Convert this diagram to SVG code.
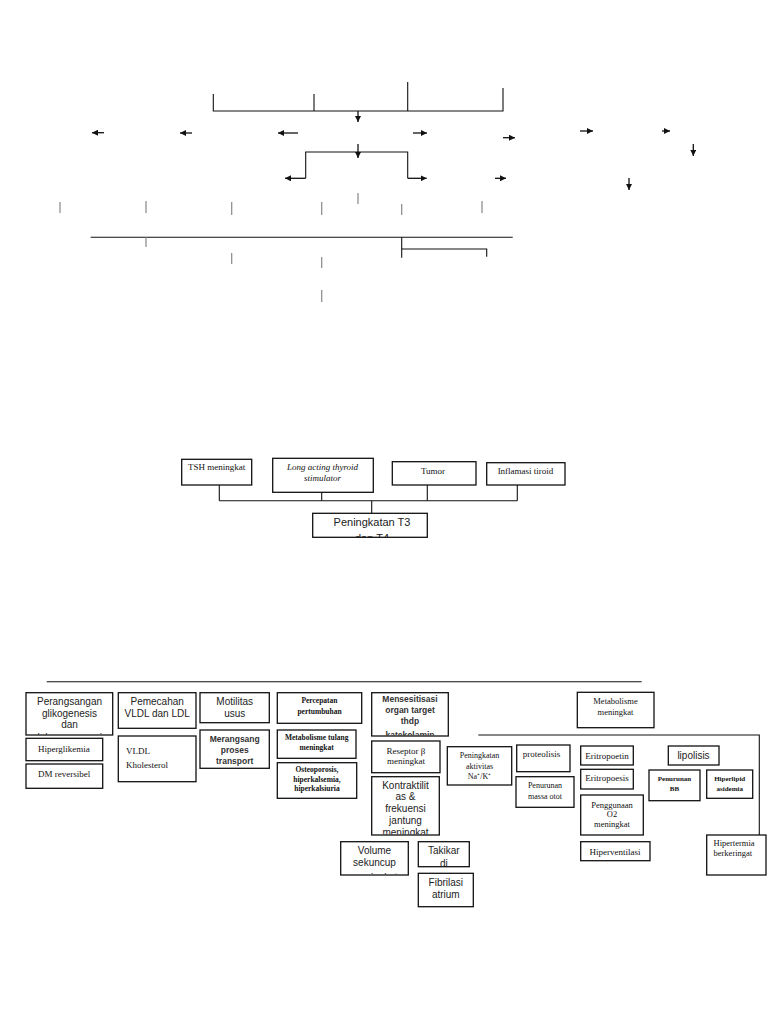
<svg xmlns="http://www.w3.org/2000/svg" width="768" height="1024" viewBox="0 0 768 1024">
<style>
.bg{fill:#fff}
.box{fill:#fff;stroke:#111;stroke-width:1.3}
.ln{stroke:#111;stroke-width:1.1;fill:none}
.ar{stroke:#111;stroke-width:1.3;fill:none;marker-end:url(#ah)}
.tk{stroke:#888;stroke-width:1.2}
.s{font-family:"Liberation Sans",Arial,sans-serif;font-size:10px;fill:#222;text-anchor:middle}
.ss{font-family:"Liberation Sans",Arial,sans-serif;font-size:8.5px;font-weight:bold;fill:#333;text-anchor:middle}
.r{font-family:"Liberation Serif","Times New Roman",serif;font-size:9px;fill:#111;text-anchor:middle}
.rl{font-family:"Liberation Serif","Times New Roman",serif;font-size:9px;fill:#111}
.rb{font-family:"Liberation Serif","Times New Roman",serif;font-size:7.5px;font-weight:bold;fill:#111;text-anchor:middle}
.ri{font-family:"Liberation Serif","Times New Roman",serif;font-size:9px;font-style:italic;fill:#111;text-anchor:middle}
</style>
<defs>
<marker id="ah" markerUnits="userSpaceOnUse" markerWidth="6" markerHeight="6" refX="6" refY="3" orient="auto">
<path d="M0,0 L6,3 L0,6 z" fill="#111"/>
</marker>
<clipPath id="cPer"><rect x="26" y="692.7" width="86.7" height="42"/></clipPath>
<clipPath id="cT3"><rect x="312.7" y="513.3" width="114.6" height="23.6"/></clipPath>
<clipPath id="cMen"><rect x="371.7" y="692.7" width="76.6" height="42.8"/></clipPath>
<clipPath id="cKon"><rect x="371.7" y="776.7" width="67.6" height="57.8"/></clipPath>
<clipPath id="cVol"><rect x="340.7" y="841.7" width="67.6" height="32.8"/></clipPath>
<clipPath id="cTak"><rect x="418.3" y="841.7" width="51" height="24.5"/></clipPath>
</defs>
<rect class="bg" x="0" y="0" width="768" height="1024"/>

<g id="connectors">
<!-- top section -->
<polyline class="ln" points="213.3,94 213.3,111 503,111 503,88"/>
<line class="ln" x1="314" y1="94" x2="314" y2="111"/>
<line class="ln" x1="407.7" y1="82" x2="407.7" y2="111"/>
<line class="ar" x1="358" y1="111" x2="358" y2="122"/>
<line class="ar" x1="104" y1="132.7" x2="92" y2="132.7"/>
<line class="ar" x1="192" y1="133" x2="180" y2="133"/>
<line class="ar" x1="298" y1="133" x2="278" y2="133"/>
<line class="ar" x1="413" y1="133" x2="427" y2="133"/>
<line class="ar" x1="503" y1="137.7" x2="515" y2="137.7"/>
<line class="ar" x1="580" y1="131" x2="593" y2="131"/>
<line class="ar" x1="662" y1="131" x2="670" y2="131"/>
<line class="ar" x1="693.3" y1="144" x2="693.3" y2="156"/>
<line class="ar" x1="358" y1="144" x2="358" y2="158"/>
<polyline class="ln" points="305.7,178.3 305.7,152 407.7,152 407.7,178.3"/>
<line class="ar" x1="305.7" y1="178.3" x2="285" y2="178.3"/>
<line class="ar" x1="407.7" y1="178.3" x2="426.7" y2="178.3"/>
<line class="ar" x1="495" y1="178.3" x2="506" y2="178.3"/>
<line class="ar" x1="629" y1="178" x2="629" y2="190"/>
<line class="tk" x1="358" y1="193" x2="358" y2="204"/>
<line class="tk" x1="60" y1="202" x2="60" y2="213"/>
<line class="tk" x1="146" y1="201" x2="146" y2="213"/>
<line class="tk" x1="231.7" y1="202" x2="231.7" y2="215"/>
<line class="tk" x1="321.7" y1="202" x2="321.7" y2="215"/>
<line class="tk" x1="401.7" y1="204" x2="401.7" y2="215"/>
<line class="tk" x1="482" y1="201" x2="482" y2="213"/>
<line class="ln" x1="90.7" y1="237.3" x2="512.7" y2="237.3"/>
<line class="tk" x1="146" y1="237.3" x2="146" y2="247"/>
<line class="tk" x1="231.7" y1="253" x2="231.7" y2="264"/>
<line class="tk" x1="321.7" y1="257" x2="321.7" y2="268"/>
<line class="tk" x1="321.7" y1="290" x2="321.7" y2="302"/>
<line class="ln" x1="401.7" y1="237.3" x2="401.7" y2="257.7"/>
<polyline class="ln" points="401.7,249 486.7,249 486.7,256.7"/>
<!-- middle section -->
<line class="ln" x1="219.3" y1="485" x2="219.3" y2="500.7"/>
<line class="ln" x1="321.7" y1="492.3" x2="321.7" y2="500.7"/>
<line class="ln" x1="427.3" y1="485" x2="427.3" y2="500.7"/>
<line class="ln" x1="517.3" y1="485" x2="517.3" y2="500.7"/>
<line class="ln" x1="219.3" y1="500.7" x2="517.3" y2="500.7"/>
<line class="ln" x1="371.7" y1="500.7" x2="371.7" y2="513.3"/>
<!-- bottom section -->
<line class="ln" x1="46.7" y1="681.7" x2="641.7" y2="681.7"/>
<polyline class="ln" points="478.3,735 759.3,735 759.3,835"/>
</g>

<g id="n-tsh"><rect class="box" x="181.7" y="459.3" width="70" height="25.7"/><text class="rl" x="188" y="470">TSH meningkat</text></g>
<g id="n-lats"><rect class="box" x="272.7" y="458.3" width="100.6" height="34"/><text class="ri" x="322.5" y="470">Long acting thyroid</text><text class="ri" x="322.5" y="481">stimulator</text></g>
<g id="n-tumor"><rect class="box" x="392.3" y="461.7" width="83.7" height="23.3"/><text class="r" x="433" y="474">Tumor</text></g>
<g id="n-inflamasi"><rect class="box" x="486.7" y="462.7" width="78.3" height="22.3"/><text class="r" x="525.5" y="474">Inflamasi tiroid</text></g>
<g id="n-t3"><rect class="box" x="312.7" y="513.3" width="114.6" height="24"/><g clip-path="url(#cT3)"><text class="s" x="372" y="526" style="font-size:11px">Peningkatan T3</text><text class="s" x="372" y="542.3" style="font-size:11px">dan T4</text></g></g>

<g id="n-perangsangan"><rect class="box" x="26" y="692.7" width="86.7" height="42.3"/><g clip-path="url(#cPer)"><text class="s" x="69.5" y="704.5">Perangsangan</text><text class="s" x="69.5" y="716.5">glikogenesis</text><text class="s" x="69.5" y="728">dan</text><text class="s" x="69.5" y="740.8">glukoneogenesis</text></g></g>
<g id="n-hiperglikemia"><rect class="box" x="26" y="738.3" width="76.7" height="22.4"/><text class="rl" x="38" y="751.5">Hiperglikemia</text></g>
<g id="n-dm"><rect class="box" x="26" y="764" width="76.7" height="24.3"/><text class="rl" x="38" y="776.5">DM reversibel</text></g>
<g id="n-pemecahan"><rect class="box" x="118.3" y="692.7" width="77.7" height="35.6"/><text class="s" x="157.2" y="705">Pemecahan</text><text class="s" x="157.2" y="717">VLDL dan LDL</text></g>
<g id="n-vldl"><rect class="box" x="118.3" y="736" width="77.7" height="45.7"/><text class="rl" x="126" y="753.5">VLDL</text><text class="rl" x="126" y="767.5">Kholesterol</text></g>
<g id="n-motilitas"><rect class="box" x="200" y="692.7" width="69.3" height="30"/><text class="s" x="234.7" y="704.5">Motilitas</text><text class="s" x="234.7" y="716.5">usus</text></g>
<g id="n-merangsang"><rect class="box" x="200" y="730" width="69.3" height="38.3"/><text class="ss" x="234.7" y="741.5">Merangsang</text><text class="ss" x="234.7" y="752.5">proses</text><text class="ss" x="234.7" y="763.5">transport</text></g>
<g id="n-percepatan"><rect class="box" x="277.3" y="692.7" width="84.4" height="30.6"/><text class="rb" x="319.5" y="702.5">Percepatan</text><text class="rb" x="319.5" y="713.5">pertumbuhan</text></g>
<g id="n-tulang"><rect class="box" x="277.3" y="730" width="78.7" height="28.3"/><text class="rb" x="316.7" y="739.5">Metabolisme tulang</text><text class="rb" x="316.7" y="749.5">meningkat</text></g>
<g id="n-osteo"><rect class="box" x="277.3" y="762.7" width="79.4" height="35.6"/><text class="rb" x="317" y="772">Osteoporosis,</text><text class="rb" x="317" y="781.5">hiperkalsemia,</text><text class="rb" x="317" y="791">hiperkalsiuria</text></g>
<g id="n-mensesitisasi"><rect class="box" x="371.7" y="692.7" width="76.6" height="43.3"/><g clip-path="url(#cMen)"><text class="ss" x="410" y="702">Mensesitisasi</text><text class="ss" x="410" y="712.5">organ target</text><text class="ss" x="410" y="723.5">thdp</text><text class="ss" x="410" y="738">katekolamin</text></g></g>
<g id="n-reseptor"><rect class="box" x="371.7" y="741" width="68.3" height="31.7"/><text class="r" x="406" y="753.5">Reseptor β</text><text class="r" x="406" y="764">meningkat</text></g>
<g id="n-kontraktilitas"><rect class="box" x="371.7" y="776.7" width="67.6" height="58.3"/><g clip-path="url(#cKon)"><text class="s" x="405.5" y="788.5">Kontraktilit</text><text class="s" x="405.5" y="800">as &amp;</text><text class="s" x="405.5" y="811.5">frekuensi</text><text class="s" x="405.5" y="823.5">jantung</text><text class="s" x="405.5" y="836">meningkat</text></g></g>
<g id="n-volume"><rect class="box" x="340.7" y="841.7" width="67.6" height="33.3"/><g clip-path="url(#cVol)"><text class="s" x="374.5" y="854">Volume</text><text class="s" x="374.5" y="865.5">sekuncup</text><text class="s" x="374.5" y="880.5">meningkat</text></g></g>
<g id="n-takikardi"><rect class="box" x="418.3" y="841.7" width="51" height="25"/><g clip-path="url(#cTak)"><text class="s" x="443.8" y="854">Takikar</text><text class="s" x="443.8" y="867">di</text></g></g>
<g id="n-fibrilasi"><rect class="box" x="418.3" y="873.3" width="55" height="33.4"/><text class="s" x="445.8" y="885.5">Fibrilasi</text><text class="s" x="445.8" y="897.5">atrium</text></g>
<g id="n-metabolisme"><rect class="box" x="577.3" y="692.3" width="76.7" height="35.4"/><text class="r" x="615.5" y="703.5" style="font-size:8.5px">Metabolisme</text><text class="r" x="615.5" y="714.5" style="font-size:8.5px">meningkat</text></g>
<g id="n-nak"><rect class="box" x="447.3" y="746.7" width="64.4" height="38.3"/><text class="r" x="479.5" y="757.5" style="font-size:8px">Peningkatan</text><text class="r" x="479.5" y="768.5" style="font-size:8px">aktivitas</text><text class="r" x="479.5" y="778.5" style="font-size:8px">Na⁺/K⁺</text></g>
<g id="n-proteolisis"><rect class="box" x="516.7" y="745" width="53.3" height="26.7"/><text class="r" x="541.5" y="756.5">proteolisis</text></g>
<g id="n-massaotot"><rect class="box" x="516" y="776.7" width="58" height="30.6"/><text class="r" x="545" y="787.5" style="font-size:8px">Penurunan</text><text class="r" x="545" y="798.5" style="font-size:8px">massa otot</text></g>
<g id="n-eritropoetin"><rect class="box" x="580.7" y="746" width="52.6" height="19"/><text class="r" x="607" y="758.5">Eritropoetin</text></g>
<g id="n-eritropoesis"><rect class="box" x="580.7" y="769.3" width="52.6" height="19.7"/><text class="r" x="607" y="781">Eritropoesis</text></g>
<g id="n-o2"><rect class="box" x="580.7" y="795" width="62.6" height="40"/><text class="r" x="612" y="807.5" style="font-size:8.5px">Penggunaan</text><text class="r" x="612" y="817" style="font-size:8.5px">O2</text><text class="r" x="612" y="826.5" style="font-size:8.5px">meningkat</text></g>
<g id="n-hiperventilasi"><rect class="box" x="580.7" y="841.7" width="69.3" height="19"/><text class="r" x="615" y="854.5">Hiperventilasi</text></g>
<g id="n-lipolisis"><rect class="box" x="668.3" y="746" width="50.7" height="19"/><text class="s" x="693.5" y="759">lipolisis</text></g>
<g id="n-bb"><rect class="box" x="649" y="770" width="51" height="30.7"/><text class="rb" x="674.5" y="780.5" style="font-size:7px">Penurunan</text><text class="rb" x="674.5" y="791" style="font-size:7px">BB</text></g>
<g id="n-hiperlipid"><rect class="box" x="706.7" y="770" width="46" height="28.3"/><text class="rb" x="729.7" y="780.5" style="font-size:7px">Hiperlipid</text><text class="rb" x="729.7" y="790.5" style="font-size:7px">asidemia</text></g>
<g id="n-hipertermia"><rect class="box" x="706.7" y="835" width="59.3" height="40"/><text class="rl" x="713.5" y="846" style="font-size:8.5px">Hipertermia</text><text class="rl" x="713.5" y="855.5" style="font-size:8.5px">berkeringat</text></g>
</svg>
